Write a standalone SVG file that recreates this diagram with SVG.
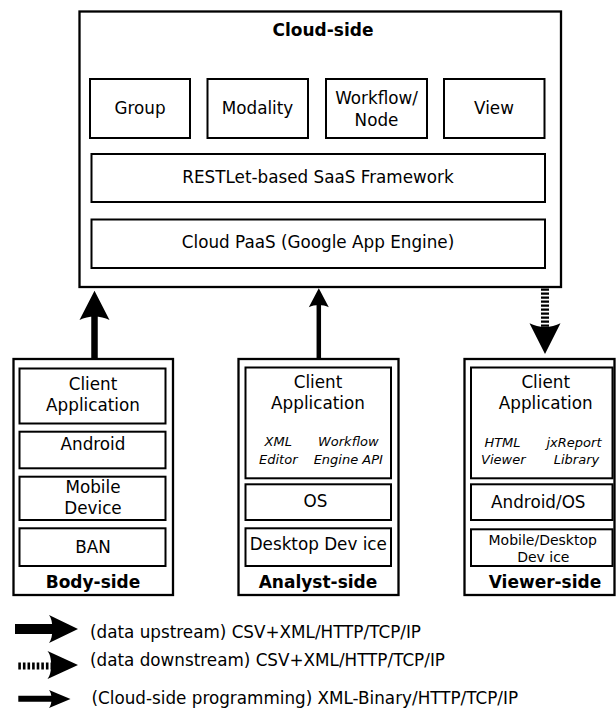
<svg xmlns="http://www.w3.org/2000/svg" width="616" height="710" viewBox="0 0 616 710">
<style>
text{font-family:"DejaVu Sans","Liberation Sans",sans-serif;fill:#000}
.t{font-size:16.8px;text-anchor:middle}
.b{font-size:17px;font-weight:bold;text-anchor:middle}
.s{font-size:13px;font-style:italic;text-anchor:middle}
.m{font-size:14px;text-anchor:middle}
.l{font-size:16.8px}
.outer{fill:#fff;stroke:#000;stroke-width:2.3}
.inner{fill:#fff;stroke:#000;stroke-width:2}
.ah{fill:#000;stroke:none}
</style>
<rect width="616" height="710" fill="#fff"/>
<g id="cloud">
<rect class="outer" x="79.5" y="11.5" width="481.5" height="275.5"/>
<text class="b" x="323" y="36">Cloud-side</text>
</g>
<g id="group"><rect class="inner" x="90" y="79" width="100" height="59"/><text class="t" x="140" y="113.5">Group</text></g>
<g id="modality"><rect class="inner" x="207.5" y="79" width="100.5" height="59"/><text class="t" x="257.5" y="113.5">Modality</text></g>
<g id="workflow"><rect class="inner" x="326" y="79" width="101" height="59"/><text class="t" x="376.5" y="104.3">Workflow/</text><text class="t" x="376.5" y="126">Node</text></g>
<g id="view"><rect class="inner" x="444" y="79" width="100.5" height="59"/><text class="t" x="494" y="113.5">View</text></g>
<g id="restlet"><rect class="inner" x="91.5" y="154" width="453.5" height="48"/><text class="t" x="318" y="183.3">RESTLet-based SaaS Framework</text></g>
<g id="paas"><rect class="inner" x="91.5" y="219.5" width="453.5" height="48.5"/><text class="t" x="318" y="248.3">Cloud PaaS (Google App Engine)</text></g>

<g id="body-side">
<rect class="outer" x="13.5" y="359" width="159.5" height="236"/>
<rect class="inner" x="19.5" y="368.5" width="146" height="55"/>
<text class="t" x="93" y="390">Client</text><text class="t" x="93" y="411">Application</text>
<rect class="inner" x="19.5" y="431.7" width="146" height="36.6"/>
<text class="t" x="93" y="450">Android</text>
<rect class="inner" x="19.5" y="476.7" width="146" height="43.3"/>
<text class="t" x="93" y="493.3">Mobile</text><text class="t" x="93" y="514.3">Device</text>
<rect class="inner" x="19.5" y="528.3" width="146" height="37.7"/>
<text class="t" x="93" y="552.7">BAN</text>
<text class="b" x="93" y="588.3">Body-side</text>
</g>

<g id="analyst-side">
<rect class="outer" x="238.5" y="359" width="160" height="236"/>
<rect class="inner" x="245.5" y="367.5" width="145.5" height="110.8"/>
<text class="t" x="318" y="388.3">Client</text><text class="t" x="318" y="409.3">Application</text>
<text class="s" x="278.3" y="446.3">XML</text><text class="s" x="278.3" y="463.8">Editor</text>
<text class="s" x="348.3" y="446.3">Workflow</text><text class="s" x="348.3" y="463.8">Engine API</text>
<rect class="inner" x="245.5" y="484.3" width="145.5" height="35.7"/>
<text class="t" x="315.5" y="506.7">OS</text>
<rect class="inner" x="245.5" y="528.3" width="145.5" height="37.7"/>
<text class="t" x="318.3" y="550">Desktop Dev ice</text>
<text class="b" x="318" y="588.3">Analyst-side</text>
</g>

<g id="viewer-side">
<rect class="outer" x="464.5" y="359" width="150" height="236"/>
<rect class="inner" x="471" y="367.5" width="141.5" height="110.8"/>
<text class="t" x="545.7" y="388.3">Client</text><text class="t" x="545.7" y="409.3">Application</text>
<text class="s" x="502.5" y="446.5">HTML</text><text class="s" x="503.3" y="464">Viewer</text>
<text class="s" x="574" y="446.5">jxReport</text><text class="s" x="576.5" y="464">Library</text>
<rect class="inner" x="471" y="484.3" width="141.5" height="35.7"/>
<text class="t" x="538.3" y="507.7">Android/OS</text>
<rect class="inner" x="471" y="529.3" width="141.5" height="36.7"/>
<text class="m" x="542.7" y="545">Mobile/Desktop</text>
<text class="m" x="543.3" y="561.7">Dev ice</text>
<text class="b" x="545" y="588.3">Viewer-side</text>
</g>

<g id="connectors">
<line x1="94.5" y1="358" x2="94.5" y2="316" stroke="#000" stroke-width="6.5"/>
<path class="ah" d="M94.5,290.7 L109.5,320 C100.5,315.3 88.5,315.3 79.5,320 Z"/>
<line x1="318.8" y1="358" x2="318.8" y2="304" stroke="#000" stroke-width="4.5"/>
<path class="ah" d="M318.8,288.3 L328.8,307.3 C322.8,304.3 314.8,304.3 308.8,307.3 Z"/>
<line x1="545" y1="288.5" x2="545" y2="328" stroke="#000" stroke-width="8" stroke-dasharray="2.2,1.8"/>
<path class="ah" d="M545,354 L560.5,323.3 C551.2,328.2 538.8,328.2 529.5,323.3 Z"/>
</g>

<g id="legend">
<line x1="15" y1="629" x2="53" y2="629" stroke="#000" stroke-width="10"/>
<path class="ah" d="M78,629 L49,643 C53.6,637.7 53.6,620.3 49,615 Z"/>
<text class="l" x="90" y="637.5">(data upstream) CSV+XML/HTTP/TCP/IP</text>
<line x1="18.3" y1="666" x2="52" y2="666" stroke="#000" stroke-width="7" stroke-dasharray="2.6,2"/>
<path class="ah" d="M78,665 L47.5,679 C52.4,673.7 52.4,656.3 47.5,651 Z"/>
<text class="l" x="90" y="666">(data downstream) CSV+XML/HTTP/TCP/IP</text>
<line x1="18.3" y1="698.7" x2="52" y2="698.7" stroke="#000" stroke-width="6"/>
<path class="ah" d="M70.5,699 L49,708 C52.4,704.5 52.4,693.5 49,690 Z"/>
<text class="l" x="91.5" y="704">(Cloud-side programming) XML-Binary/HTTP/TCP/IP</text>
</g>
</svg>
